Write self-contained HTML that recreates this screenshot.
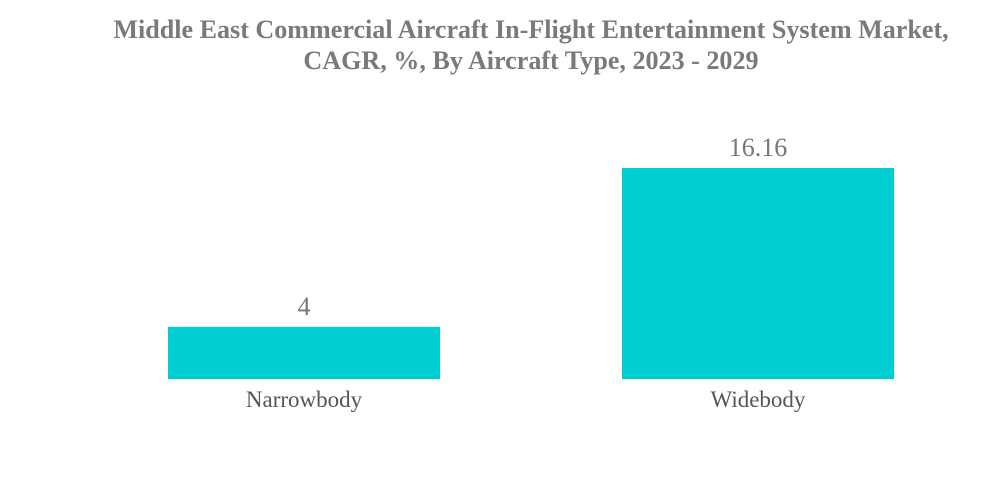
<!DOCTYPE html>
<html>
<head>
<meta charset="utf-8">
<style>
  html,body{margin:0;padding:0;background:#fff;}
  body{width:1000px;height:483px;overflow:hidden;position:relative;}
  svg{position:absolute;left:0;top:0;}
</style>
</head>
<body>
<svg width="1000" height="483">
  <text x="531" y="38" text-anchor="middle" font-family="Liberation Serif, serif" font-weight="bold" font-size="26.1" fill="#7a7a7a">Middle East Commercial Aircraft In-Flight Entertainment System Market,</text>
  <text x="531" y="69" text-anchor="middle" font-family="Liberation Serif, serif" font-weight="bold" font-size="26.1" fill="#7a7a7a">CAGR, %, By Aircraft Type, 2023 - 2029</text>
  <g id="bars"></g>
</svg>
<script>
const categories = ["Narrowbody", "Widebody"];
const values = [4, 16.16];
const labels = ["4", "16.16"];

const baseY = 379, pxPerUnit = 211 / 16.16;
const bandStart = 168, bandStep = 454, barW = 272;
function xPos(i){ return bandStart + i * bandStep; }
function yPos(v){ return baseY - v * pxPerUnit; }

const ns = "http://www.w3.org/2000/svg";
const g = document.getElementById("bars");
categories.forEach((c, i) => {
  const r = document.createElementNS(ns, "rect");
  
  
  r.setAttribute("x", xPos(i));
  r.setAttribute("y", yPos(values[i]));
  r.setAttribute("width", barW);
  r.setAttribute("height", baseY - yPos(values[i]));
  r.setAttribute("fill", "#00ced1");
  g.appendChild(r);

  const t = document.createElementNS(ns, "text");
  
  
  t.setAttribute("x", xPos(i) + barW / 2);
  t.setAttribute("y", yPos(values[i]) - 12);
  t.setAttribute("text-anchor", "middle");
  t.setAttribute("font-family", "Liberation Serif, serif");
  t.setAttribute("font-size", "26");
  t.setAttribute("fill", "#777");
  t.textContent = labels[i];
  g.appendChild(t);

  const l = document.createElementNS(ns, "text");
  
  
  l.setAttribute("x", xPos(i) + barW / 2);
  l.setAttribute("y", 407);
  l.setAttribute("text-anchor", "middle");
  l.setAttribute("font-family", "Liberation Serif, serif");
  l.setAttribute("font-size", "23");
  l.setAttribute("fill", "#555");
  l.textContent = c;
  g.appendChild(l);
});
</script>
</body>
</html>
